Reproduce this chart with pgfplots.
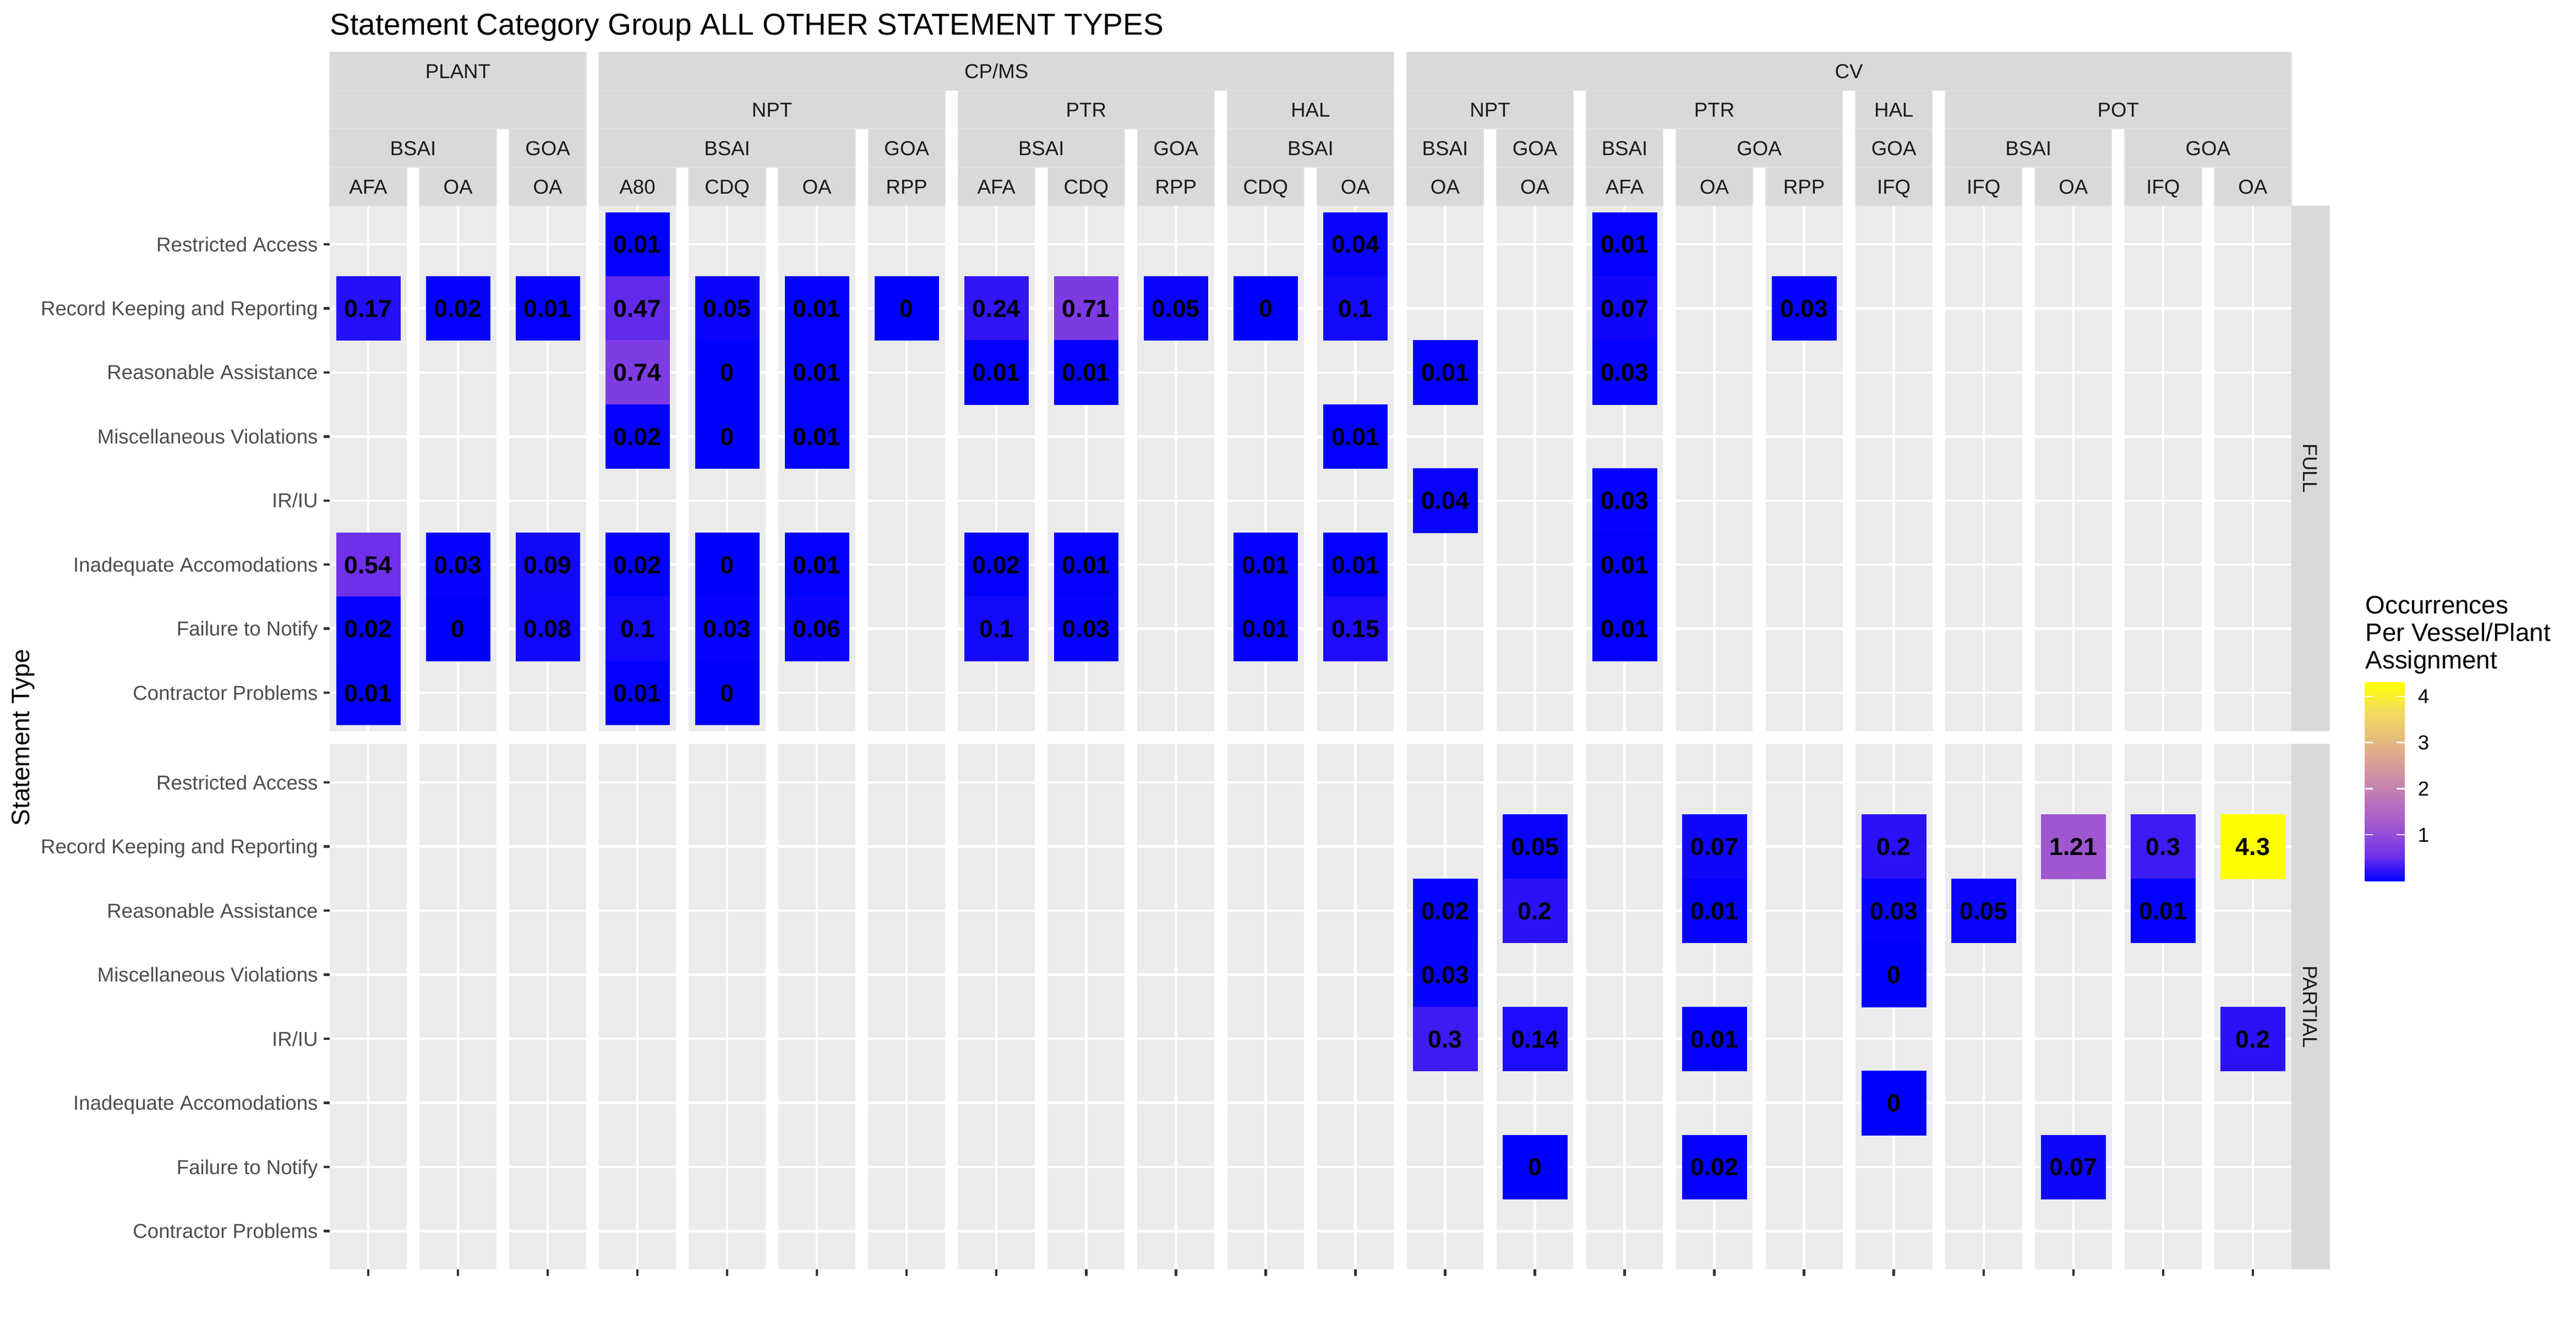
\documentclass[border=0pt]{standalone}
\usepackage{fontspec}
\setmainfont{Liberation Sans}
\usepackage{pgfplots}
\usepackage{pgfplotstable}
\pgfplotsset{compat=1.18}
\definecolor{panelbg}{HTML}{EBEBEB}
\definecolor{stripbg}{HTML}{D9D9D9}
\definecolor{stripline}{HTML}{E3E3E3}
\definecolor{striptxt}{HTML}{1A1A1A}
\definecolor{axtxt}{HTML}{4D4D4D}
\definecolor{tickc}{HTML}{333333}
\definecolor{cb0}{RGB}{0,0,255}
\definecolor{cb1}{RGB}{112,48,234}
\definecolor{cb2}{RGB}{152,80,213}
\definecolor{cb3}{RGB}{180,109,192}
\definecolor{cb4}{RGB}{202,138,170}
\definecolor{cb5}{RGB}{219,167,146}
\definecolor{cb6}{RGB}{233,196,118}
\definecolor{cb7}{RGB}{245,225,83}
\definecolor{cb8}{RGB}{255,255,0}
\pgfplotsset{colormap={labgrad}{rgb255=(0,0,255) rgb255=(112,48,234) rgb255=(152,80,213) rgb255=(180,109,192) rgb255=(202,138,170) rgb255=(219,167,146) rgb255=(233,196,118) rgb255=(245,225,83) rgb255=(255,255,0)}}
\pgfdeclareverticalshading{labbar}{100bp}{color(0bp)=(cb0); color(25bp)=(cb0); color(31.25bp)=(cb1); color(37.5bp)=(cb2); color(43.75bp)=(cb3); color(50bp)=(cb4); color(56.25bp)=(cb5); color(62.5bp)=(cb6); color(68.75bp)=(cb7); color(75bp)=(cb8); color(100bp)=(cb8)}

% c = facet column (0..21), r = statement type (0 = Restricted Access ... 7 = Contractor Problems), f = 0 FULL / 1 PARTIAL
\pgfplotstableread{
c r f v
0 1 0 0.17
0 5 0 0.54
0 6 0 0.02
0 7 0 0.01
1 1 0 0.02
1 5 0 0.03
1 6 0 0
2 1 0 0.01
2 5 0 0.09
2 6 0 0.08
3 0 0 0.01
3 1 0 0.47
3 2 0 0.74
3 3 0 0.02
3 5 0 0.02
3 6 0 0.1
3 7 0 0.01
4 1 0 0.05
4 2 0 0
4 3 0 0
4 5 0 0
4 6 0 0.03
4 7 0 0
5 1 0 0.01
5 2 0 0.01
5 3 0 0.01
5 5 0 0.01
5 6 0 0.06
6 1 0 0
7 1 0 0.24
7 2 0 0.01
7 5 0 0.02
7 6 0 0.1
8 1 0 0.71
8 2 0 0.01
8 5 0 0.01
8 6 0 0.03
9 1 0 0.05
10 1 0 0
10 5 0 0.01
10 6 0 0.01
11 0 0 0.04
11 1 0 0.1
11 3 0 0.01
11 5 0 0.01
11 6 0 0.15
12 2 0 0.01
12 4 0 0.04
14 0 0 0.01
14 1 0 0.07
14 2 0 0.03
14 4 0 0.03
14 5 0 0.01
14 6 0 0.01
16 1 0 0.03
12 2 1 0.02
12 3 1 0.03
12 4 1 0.3
13 1 1 0.05
13 2 1 0.2
13 4 1 0.14
13 6 1 0
15 1 1 0.07
15 2 1 0.01
15 4 1 0.01
15 6 1 0.02
17 1 1 0.2
17 2 1 0.03
17 3 1 0
17 5 1 0
18 2 1 0.05
19 1 1 1.21
19 6 1 0.07
20 1 1 0.3
20 2 1 0.01
21 1 1 4.3
21 4 1 0.2
}\tiles

\newcommand{\strip}[4]{%
  \path[fill=stripbg, draw=stripline, line width=0.4pt] ({1.4*#2},{16.6+0.6*(#1-1)}) rectangle ({1.4*#3+1.2},{16.6+0.6*#1});
  \node[font=\fontsize{8.8}{10}\selectfont, text=striptxt, text height=6.3pt, text depth=0pt, inner sep=0pt] at ({0.7*(#2+#3)+0.6},{16.6+0.6*#1-0.3}) {#4};%
}

\begin{document}
\begin{tikzpicture}
\begin{scope}[x=27.95pt, y=27.95pt]
  % panels, grid and x ticks
  \foreach \i in {0,...,21} {
    \fill[panelbg] ({1.4*\i},0) rectangle ({1.4*\i+1.2},8.2);
    \fill[panelbg] ({1.4*\i},8.4) rectangle ({1.4*\i+1.2},16.6);
    \foreach \r in {0,...,7} {
      \draw[white, line width=1.07pt] ({1.4*\i},{7.6-\r}) -- ({1.4*\i+1.2},{7.6-\r});
      \draw[white, line width=1.07pt] ({1.4*\i},{16-\r}) -- ({1.4*\i+1.2},{16-\r});
    }
    \draw[white, line width=1.07pt] ({1.4*\i+0.6},0) -- ({1.4*\i+0.6},8.2);
    \draw[white, line width=1.07pt] ({1.4*\i+0.6},8.4) -- ({1.4*\i+0.6},16.6);
    \draw[tickc, line width=1.07pt] ({1.4*\i+0.6},0) -- ++(0,-2.75pt);
  }
  % y tick labels
  \foreach \lab [count=\k from 0] in {Restricted Access,Record Keeping and Reporting,Reasonable Assistance,Miscellaneous Violations,IR/IU,Inadequate Accomodations,Failure to Notify,Contractor Problems} {
    \foreach \base in {16,7.6} {
      \draw[tickc, line width=1.07pt] (0,{\base-\k}) -- ++(-2.75pt,0);
      \node[anchor=east, xshift=-4.95pt, inner sep=0pt, font=\fontsize{8.8}{10}\selectfont, text=axtxt, text height=6.3pt, text depth=0pt] at (0,{\base-\k}) {\lab};
    }
  }
  % top strips: level 4 (top)
  \strip{4}{0}{2}{PLANT}
  \strip{4}{3}{11}{CP/MS}
  \strip{4}{12}{21}{CV}
  % level 3
  \strip{3}{0}{2}{}
  \strip{3}{3}{6}{NPT}
  \strip{3}{7}{9}{PTR}
  \strip{3}{10}{11}{HAL}
  \strip{3}{12}{13}{NPT}
  \strip{3}{14}{16}{PTR}
  \strip{3}{17}{17}{HAL}
  \strip{3}{18}{21}{POT}
  % level 2
  \strip{2}{0}{1}{BSAI}
  \strip{2}{2}{2}{GOA}
  \strip{2}{3}{5}{BSAI}
  \strip{2}{6}{6}{GOA}
  \strip{2}{7}{8}{BSAI}
  \strip{2}{9}{9}{GOA}
  \strip{2}{10}{11}{BSAI}
  \strip{2}{12}{12}{BSAI}
  \strip{2}{13}{13}{GOA}
  \strip{2}{14}{14}{BSAI}
  \strip{2}{15}{16}{GOA}
  \strip{2}{17}{17}{GOA}
  \strip{2}{18}{19}{BSAI}
  \strip{2}{20}{21}{GOA}
  % level 1
  \foreach \nm [count=\j from 0] in {AFA,OA,OA,A80,CDQ,OA,RPP,AFA,CDQ,RPP,CDQ,OA,OA,OA,AFA,OA,RPP,IFQ,IFQ,OA,IFQ,OA} {
    \strip{1}{\j}{\j}{\nm}
  }
  % right strips
  \fill[stripbg] (30.6,8.4) rectangle (31.2,16.6);
  \node[rotate=-90, font=\fontsize{8.8}{10}\selectfont, text=striptxt, text height=6.3pt, text depth=0pt, inner sep=0pt] at (30.9,12.5) {FULL};
  \fill[stripbg] (30.6,0) rectangle (31.2,8.2);
  \node[rotate=-90, font=\fontsize{8.8}{10}\selectfont, text=striptxt, text height=6.3pt, text depth=0pt, inner sep=0pt] at (30.9,4.1) {PARTIAL};
  % titles
  \node[anchor=base west, inner sep=0pt, font=\fontsize{13.2}{15}\selectfont] at (0,19.27) {Statement Category Group ALL OTHER STATEMENT TYPES};
  \node[rotate=90, inner sep=0pt, font=\fontsize{11}{13}\selectfont] at (-4.78,8.3) {Statement Type};
  % legend title
  \node[anchor=base west, inner sep=0pt, font=\fontsize{11}{13}\selectfont] at (31.75,10.232) {Occurrences};
  \node[anchor=base west, inner sep=0pt, font=\fontsize{11}{13}\selectfont] at (31.75,9.804) {Per Vessel/Plant};
  \node[anchor=base west, inner sep=0pt, font=\fontsize{11}{13}\selectfont] at (31.75,9.379) {Assignment};
\end{scope}
% legend colour bar (scale 0 .. 4.3)
\shade[shading=labbar] (887.4pt,169.5pt) rectangle (904.7pt,256pt);
\foreach \t in {1,2,3,4} {
  \draw[white, line width=0.6pt] (887.4pt,{169.5pt+20.116pt*\t}) -- ++(3.5pt,0);
  \draw[white, line width=0.6pt] (904.7pt,{169.5pt+20.116pt*\t}) -- ++(-3.5pt,0);
  \node[anchor=west, inner sep=0pt, font=\fontsize{8.8}{10}\selectfont, text height=6.3pt, text depth=0pt] at (910.3pt,{169.5pt+20.116pt*\t}) {\t};
}

\begin{axis}[
  at={(0,0)}, anchor=south west,
  x=27.95pt, y=27.95pt,
  xmin=0, xmax=30.6, ymin=0, ymax=16.6,
  axis line style={draw=none},
  xtick=\empty, ytick=\empty,
  clip=false,
  colormap name=labgrad,
  point meta min=0, point meta max=4.3,
]
\addplot[scatter, only marks, mark=square*, mark size=13.975pt,
  point meta=explicit,
  scatter/use mapped color={draw=mapped color, fill=mapped color},
  mark options={line width=0.1pt}]
  table[x expr=1.4*\thisrow{c}+0.6, y expr=16-\thisrow{r}-8.4*\thisrow{f}, meta=v] {\tiles};
\addplot[only marks, mark=none, point meta=explicit symbolic,
  nodes near coords,
  every node near coord/.append style={font=\bfseries\fontsize{10.7}{12}\selectfont, text=black, anchor=center, inner sep=0pt, text height=7.66pt, text depth=0pt}]
  table[x expr=1.4*\thisrow{c}+0.6, y expr=16-\thisrow{r}-8.4*\thisrow{f}, meta=v] {\tiles};
\end{axis}
\pgfresetboundingbox
\path[use as bounding box] (-143.78pt,-22.25pt) rectangle (979.42pt,553.75pt);
\end{tikzpicture}
\end{document}
